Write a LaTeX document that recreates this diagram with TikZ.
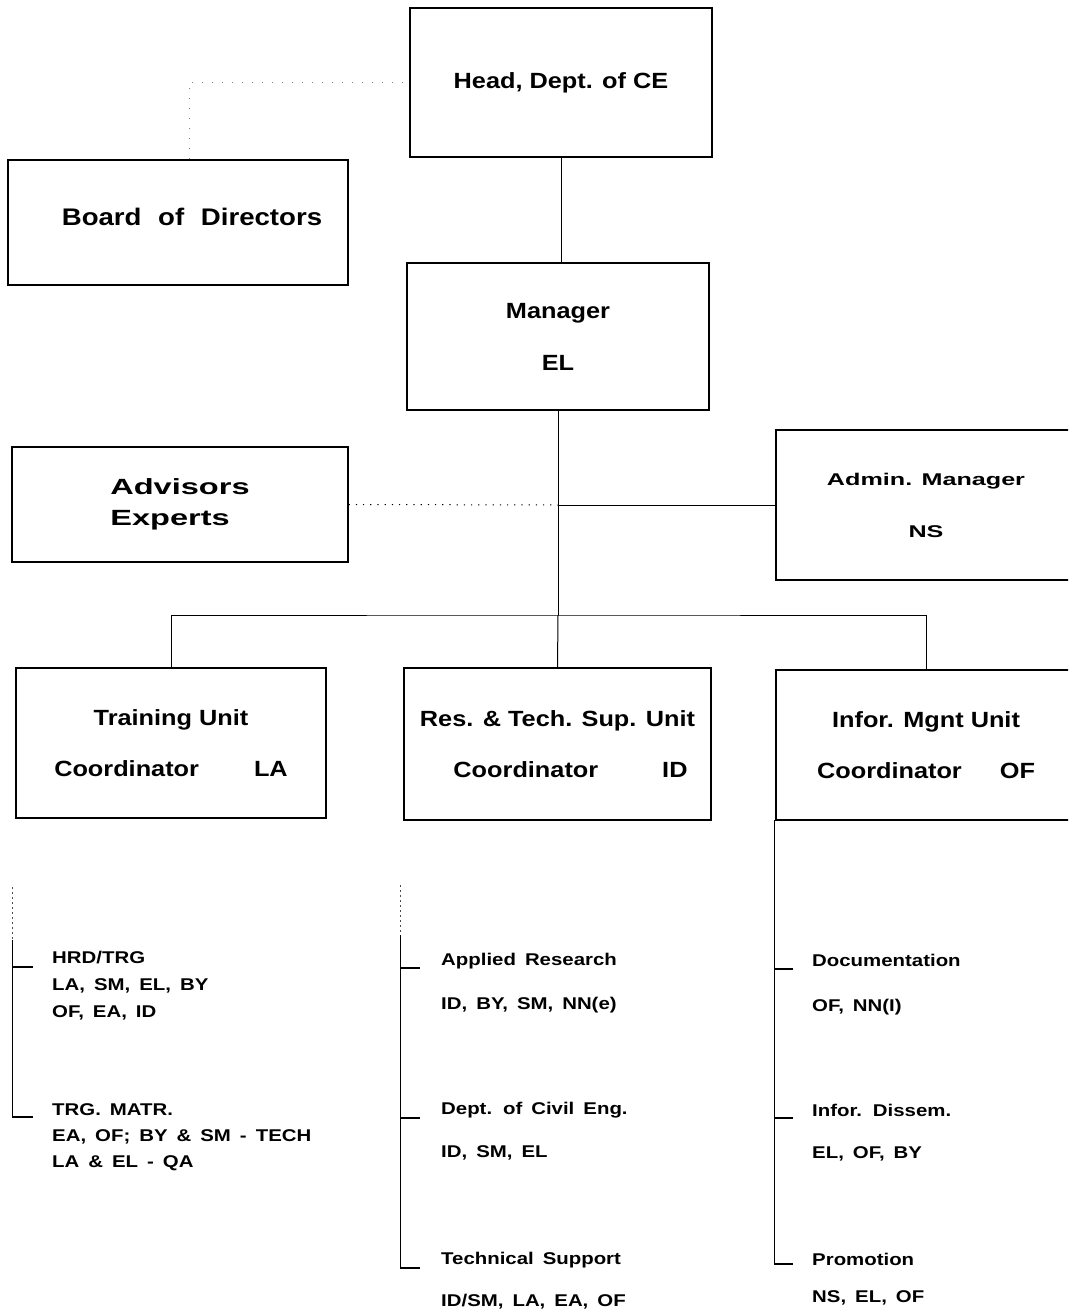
\documentclass[tikz,border=0pt]{standalone}
\usepackage{fontspec}
\setmainfont{Liberation Sans}
\newfontfamily\fA{Liberation Sans}[FakeStretch=1.15]
\newfontfamily\fB{Liberation Sans}[FakeStretch=1.48]
\newfontfamily\fC{Liberation Sans}[FakeStretch=1.2]
\newcommand\itemfnt{\fC\bfseries\fontsize{17}{20}\selectfont\spaceskip 9pt\relax}
\begin{document}
\begin{tikzpicture}[x=1pt,y=-1pt,
  box/.style={draw, line width=1.2pt, inner sep=0pt, align=center,
    font=\fA\bfseries\fontsize{22}{26.4}\selectfont},
  conn/.style={line width=1pt},
  tick/.style={line width=1.2pt},
  dotc/.style={line width=1pt, dash pattern=on 1.2pt off 6pt},
  faint/.style={line width=0.8pt, black!50, dash pattern=on 1pt off 9pt},
  faintv/.style={line width=0.8pt, black!70, dash pattern=on 2pt off 3pt},
  item/.style={anchor=base west, inner sep=0pt, font=\itemfnt}]
\useasboundingbox (0,0) rectangle (1068,1313);
\clip (0,0) rectangle (1068,1313);

% ---- boxes ----
\node[box, minimum width=302pt, minimum height=149pt] (head) at (561,82.5) {Head, Dept. of CE};
\node[box, minimum width=340pt, minimum height=125pt,
      font=\fA\bfseries\fontsize{24}{28}\selectfont] (board) at (178,222.5)
      {\raisebox{12pt}{\hspace*{28pt}Board\hspace{9pt} of\hspace{9pt} Directors}};
\node[box, minimum width=302pt, minimum height=147pt] (mgr) at (558,336.5) {Manager\\[25.6pt]EL};
\node[box, align=left, minimum width=336pt, minimum height=115pt,
      font=\fB\bfseries\fontsize{22}{25}\selectfont] (adv) at (180,504.5)
      {\raisebox{-4pt}{Advisors}\\[6pt]\raisebox{-4pt}{Experts}};
\node[box, minimum width=300pt, minimum height=150pt,
      font=\fB\bfseries\fontsize{17}{20.4}\selectfont] (adm) at (926,505)
      {Admin. Manager\\[31.6pt]NS};
\node[box, minimum width=310pt, minimum height=150pt] (trn) at (171,743)
      {Training Unit\\[24.6pt]Coordinator\hspace{55pt}LA};
\node[box, minimum width=307pt, minimum height=152pt] (res) at (557.5,744)
      {Res. \& Tech. Sup. Unit\\[24.6pt]\hspace*{26pt}Coordinator\hspace{64pt}ID};
\node[box, minimum width=300pt, minimum height=150pt] (inf) at (926,745)
      {Infor. Mgnt Unit\\[24.6pt]Coordinator\hspace{38pt}OF};

% ---- connectors ----
\coordinate (busy) at (0,615);
\coordinate (bus) at (mgr.south |- busy);
\coordinate (jn) at (mgr.south |- adm.west);
\coordinate (bdx) at (189,0);
\draw[faint] (board.north -| bdx) |- (head.west);
\draw[conn] (head.south) -- (head.south |- mgr.north);
\draw[conn] (mgr.south) -- (bus);
\draw[conn] (jn) -- (adm.west);
\draw[dotc] (adv.east) -- (jn);
\draw[conn] (trn.north) |- (bus) -| (inf.north);
\draw[conn] (bus) -- (res.north);

% ---- training unit list ----
\coordinate (ta) at (12,887);
\coordinate (tb) at (12,940);
\coordinate (t1) at (33,967);
\coordinate (t2) at (33,1117);
\draw[faintv] (ta) -- (tb);
\draw[conn] (tb) -- (tb |- t2);
\draw[tick] (t1 -| tb) -- (t1);
\draw[tick] (t2 -| tb) -- (t2);
\node[item] (hrd)  at (52,963)  {HRD/TRG};
\node[item] (hrd2) at (52,990)  {LA, SM, EL, BY};
\node[item] (hrd3) at (52,1017) {OF, EA, ID};
\node[item] (trg)  at (52,1115) {TRG. MATR.};
\node[item] (trg2) at (52,1141) {EA, OF; BY \& SM - TECH};
\node[item] (trg3) at (52,1167) {LA \& EL - QA};

% ---- research unit list ----
\coordinate (ra) at (400,885);
\coordinate (rb) at (400,935);
\coordinate (r1) at (420,968);
\coordinate (r2) at (420,1118);
\coordinate (r3) at (420,1268);
\draw[faintv] (ra) -- (rb);
\draw[conn] (rb) -- (rb |- r3);
\draw[tick] (r1 -| rb) -- (r1);
\draw[tick] (r2 -| rb) -- (r2);
\draw[tick] (r3 -| rb) -- (r3);
\node[item] (app)  at (441,965)  {Applied Research};
\node[item] (app2) at (441,1009) {ID, BY, SM, NN(e)};
\node[item] (dce)  at (441,1114) {Dept. of Civil Eng.};
\node[item] (dce2) at (441,1157) {ID, SM, EL};
\node[item] (tsu)  at (441,1264) {Technical Support};
\node[item] (tsu2) at (441,1306) {ID/SM, LA, EA, OF};

% ---- information unit list ----
\coordinate (ia) at (774,820);
\coordinate (i1) at (793,969);
\coordinate (i2) at (793,1118);
\coordinate (i3) at (793,1264);
\draw[conn] (ia) -- (ia |- i3);
\draw[tick] (i1 -| ia) -- (i1);
\draw[tick] (i2 -| ia) -- (i2);
\draw[tick] (i3 -| ia) -- (i3);
\node[item] (doc)  at (812,966)  {Documentation};
\node[item] (doc2) at (812,1011) {OF, NN(I)};
\node[item] (dis)  at (812,1116) {Infor. Dissem.};
\node[item] (dis2) at (812,1158) {EL, OF, BY};
\node[item] (pro)  at (812,1265) {Promotion};
\node[item] (pro2) at (812,1302) {NS, EL, OF};
\end{tikzpicture}
\end{document}
